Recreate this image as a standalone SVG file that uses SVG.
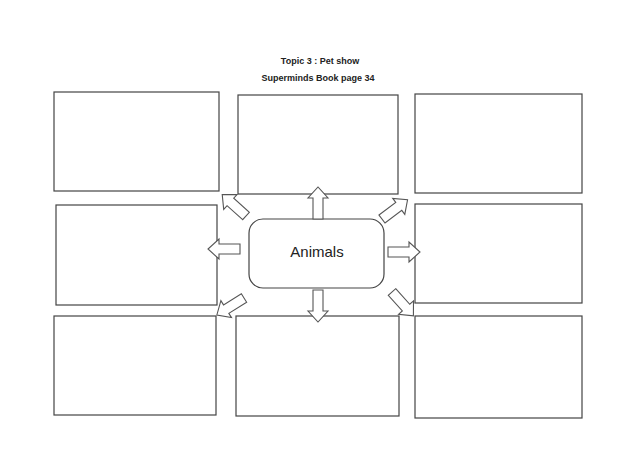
<svg xmlns="http://www.w3.org/2000/svg" width="638" height="451" viewBox="0 0 638 451">
<style>
.b{fill:#fff;stroke:#444;stroke-width:1.2}
.a{fill:#fff;stroke:#555;stroke-width:1.1}
.t{font-family:"Liberation Sans",Arial,sans-serif;fill:#222;text-anchor:middle}
</style>
<defs><path id="ar" d="M0,-5 L21,-5 L21,-10 L32,0 L21,10 L21,5 L0,5 Z"/></defs>
<rect width="638" height="451" fill="#fff"/>
<text class="t" x="320" y="64" font-size="9" font-weight="bold">Topic 3 : Pet show</text>
<text class="t" x="318" y="81" font-size="9" font-weight="bold">Superminds Book page 34</text>
<g id="box1"><rect class="b" x="54" y="92" width="165" height="99"/></g>
<g id="box2"><rect class="b" x="238" y="95" width="160" height="99"/></g>
<g id="box3"><rect class="b" x="415" y="94" width="167" height="99"/></g>
<g id="box4"><rect class="b" x="56" y="205" width="161" height="100"/></g>
<g id="box5"><rect class="b" x="415" y="204" width="167" height="99"/></g>
<g id="box6"><rect class="b" x="54" y="316" width="162" height="99"/></g>
<g id="box7"><rect class="b" x="236" y="316" width="163" height="100"/></g>
<g id="box8"><rect class="b" x="415" y="316" width="167" height="102"/></g>
<g id="center"><rect class="b" x="249" y="219" width="135" height="69" rx="14"/>
<text class="t" x="317" y="257" font-size="15">Animals</text></g>
<g id="connectors">
<use href="#ar" class="a" transform="translate(318,219) rotate(-90)"/>
<use href="#ar" class="a" transform="translate(318,290) rotate(90)"/>
<use href="#ar" class="a" transform="translate(240,249) rotate(180)"/>
<use href="#ar" class="a" transform="translate(388,252)"/>
<use href="#ar" class="a" transform="translate(246,216) rotate(-138)"/>
<use href="#ar" class="a" transform="translate(382,219) rotate(-37)"/>
<use href="#ar" class="a" transform="translate(244,298) rotate(148)"/>
<use href="#ar" class="a" transform="translate(392,292) rotate(48)"/>
</g>
</svg>
